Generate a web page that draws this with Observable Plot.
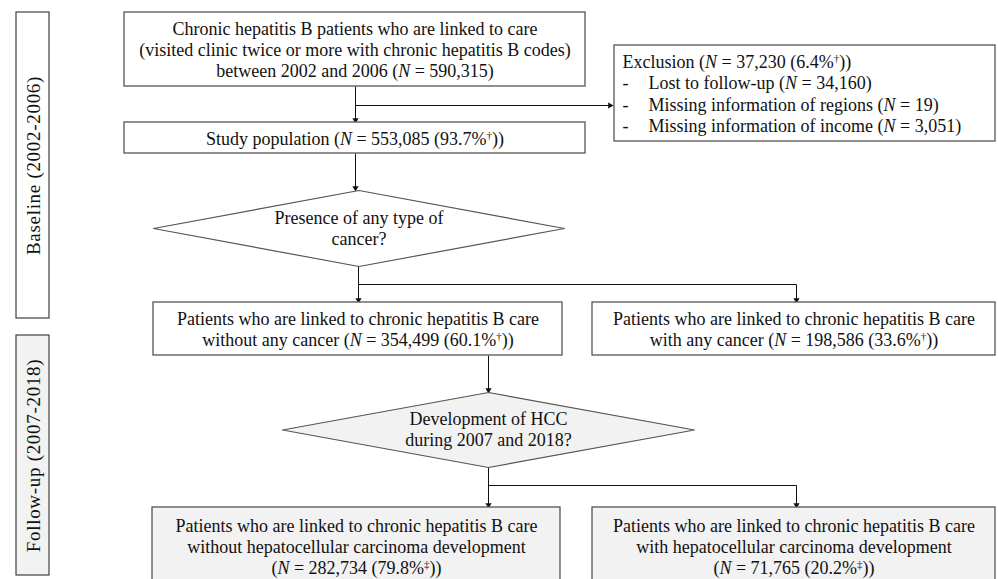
<!DOCTYPE html>
<html>
<head>
<meta charset="utf-8">
<script src="https://cdn.jsdelivr.net/npm/d3@7"></script>
<script src="https://cdn.jsdelivr.net/npm/@observablehq/plot@0.6"></script>
<style>
  html, body { margin: 0; padding: 0; background: #fff; overflow: hidden; }
  #chart svg { display: block; }
</style>
</head>
<body>
<div id="chart"></div>
<script>
// ---------- content ----------
const sideLabels = ["Baseline (2002-2006)", "Follow-up (2007-2018)"];

const boxTexts = [
  "Chronic hepatitis B patients who are linked to care\n(visited clinic twice or more with chronic hepatitis B codes)\nbetween 2002 and 2006 (N = 590,315)",
  "Study population (N = 553,085 (93.7%†))",
  "Patients who are linked to chronic hepatitis B care\nwithout any cancer (N = 354,499 (60.1%†))",
  "Patients who are linked to chronic hepatitis B care\nwith any cancer (N = 198,586 (33.6%†))",
  "Patients who are linked to chronic hepatitis B care\nwithout hepatocellular carcinoma development\n(N = 282,734 (79.8%‡))",
  "Patients who are linked to chronic hepatitis B care\nwith hepatocellular carcinoma development\n(N = 71,765 (20.2%‡))"
];

const decisionTexts = [
  "Presence of any type of\ncancer?",
  "Development of HCC\nduring 2007 and 2018?"
];

const exclusionHeader = "Exclusion (N = 37,230 (6.4%†))";
const exclusionItems = [
  "Lost to follow-up (N = 34,160)",
  "Missing information of regions (N = 19)",
  "Missing information of income (N = 3,051)"
];

// ---------- layout (pixel space) ----------
const sideLayout = [
  {x1: 16, x2: 49, y1: 12, y2: 318, fill: "#ffffff"},
  {x1: 16, x2: 49, y1: 335, y2: 575, fill: "#f2f2f2"}
];
const boxLayout = [
  {x1: 124, x2: 585, y1: 12, y2: 86, fill: "#ffffff"},
  {x1: 124, x2: 585, y1: 122, y2: 153, fill: "#ffffff"},
  {x1: 153, x2: 562, y1: 302, y2: 355, fill: "#ffffff"},
  {x1: 592, x2: 995, y1: 302, y2: 355, fill: "#ffffff"},
  {x1: 152, x2: 560, y1: 507, y2: 600, fill: "#f2f2f2"},
  {x1: 592, x2: 995, y1: 507, y2: 600, fill: "#f2f2f2"}
];
const exclusionLayout = {x1: 614, x2: 995, y1: 45, y2: 141, fill: "#ffffff"};
const decisionLayout = [
  {cx: 358.5, cy: 228, hw: 205.5, hh: 38, fill: "#ffffff"},
  {cx: 488, cy: 429.5, hw: 206, hh: 37.5, fill: "#f2f2f2"}
];
// connectors: [x1, y1, x2, y2, arrowhead]
const connectors = [
  [355, 86, 355, 122, true],
  [355, 105, 612, 105, true],
  [355, 153, 355, 190, true],
  [358, 266, 358, 302, true],
  [358, 284, 796, 284, false],
  [796, 284, 796, 302, true],
  [488, 355, 488, 392, true],
  [488, 467, 488, 507, true],
  [488, 485, 796, 485, false],
  [796, 485, 796, 507, true]
];

// ---------- derived tables ----------
const sides = sideLabels.map((t, i) => ({text: t, ...sideLayout[i]}));
const boxes = boxTexts.map((t, i) => ({text: t, ...boxLayout[i]}));
const visibleBottom = 579;
const diamondPts = [];
decisionTexts.forEach((t, i) => {
  const d = decisionLayout[i];
  [[d.cx, d.cy - d.hh], [d.cx + d.hw, d.cy], [d.cx, d.cy + d.hh], [d.cx - d.hw, d.cy], [d.cx, d.cy - d.hh]]
    .forEach(([x, y]) => diamondPts.push({x, y, z: i, fill: d.fill}));
});
const decisions = decisionTexts.map((t, i) => ({text: t, x: decisionLayout[i].cx, y: decisionLayout[i].cy}));
const links = connectors.map(([x1, y1, x2, y2, a]) => ({x1, y1, x2, y2, a}));
const heads = links.filter(d => d.a).map(d => {
  const horiz = d.y1 === d.y2;
  return horiz ? {x: d.x2 - 2.5, y: d.y2, rotate: 90} : {x: d.x2, y: d.y2 - 2.5, rotate: 180};
});
const exItems = exclusionItems.map((t, i) => ({text: t, y: 83 + i * 21.5}));

const font = "Liberation Serif, Times New Roman, serif";
const fs = 18;

const chart = Plot.plot({
  width: 998,
  height: 579,
  margin: 0,
  style: {fontFamily: font, background: "#fff"},
  x: {domain: [0, 998], range: [0, 998], axis: null},
  y: {domain: [0, 579], range: [0, 579], axis: null},
  marks: [
    // side boxes
    Plot.rect(sides, {x1: "x1", x2: "x2", y1: "y1", y2: "y2", fill: "fill", stroke: "#404040", strokeWidth: 1.2}),
    Plot.text(sides, {x: d => (d.x1 + d.x2) / 2 + 1, y: d => (d.y1 + d.y2) / 2, text: "text", rotate: -90,
      fontSize: 19, fontFamily: font, fill: "#111"}),
    // connectors
    Plot.link(links, {x1: "x1", y1: "y1", x2: "x2", y2: "y2", stroke: "#111", strokeWidth: 1}),
    Plot.dot(heads, {x: "x", y: "y", rotate: "rotate", symbol: "triangle", r: 2.3, fill: "#111", stroke: "none"}),
    // boxes
    Plot.rect(boxes, {x1: "x1", x2: "x2", y1: "y1", y2: "y2", fill: "fill", stroke: "#555", strokeWidth: 1.3, clip: true}),
    Plot.text(boxes, {x: d => (d.x1 + d.x2) / 2,
      y: d => (d.y1 + Math.min(d.y2, d.y1 + 74)) / 2 + (d.y2 > visibleBottom ? 1.5 : 0),
      text: "text", lineHeight: 1.17, fontSize: fs, fontFamily: font, fill: "#111"}),
    // exclusion box
    Plot.rect([exclusionLayout], {x1: "x1", x2: "x2", y1: "y1", y2: "y2", fill: "fill", stroke: "#555", strokeWidth: 1.3}),
    Plot.text([exclusionHeader], {x: 622, y: 62, text: d => d, textAnchor: "start", fontSize: fs, fontFamily: font, fill: "#111"}),
    Plot.text(exItems, {x: 622, y: "y", text: () => "-", textAnchor: "start", fontSize: fs, fontFamily: font, fill: "#111"}),
    Plot.text(exItems, {x: 648, y: "y", text: "text", textAnchor: "start", fontSize: fs, fontFamily: font, fill: "#111"}),
    // decisions
    Plot.line(diamondPts, {x: "x", y: "y", z: "z", fill: "fill", stroke: "#555", strokeWidth: 1.2, curve: "linear"}),
    Plot.text(decisions, {x: "x", y: d => d.y - 1, text: "text", lineHeight: 1.17, fontSize: fs, fontFamily: font, fill: "#111"})
  ]
});

// italic N and superscript daggers
function styleText(root) {
  const walker = document.createTreeWalker(root, NodeFilter.SHOW_TEXT);
  const nodes = [];
  while (walker.nextNode()) nodes.push(walker.currentNode);
  const ns = "http://www.w3.org/2000/svg";
  nodes.forEach(n => {
    const s = n.nodeValue;
    if (!/N(?= =)|[†‡]/.test(s)) return;
    const frag = document.createDocumentFragment();
    const re = /N(?= =)|[†‡]/g;
    let last = 0, m;
    while ((m = re.exec(s))) {
      if (m.index > last) frag.appendChild(document.createTextNode(s.slice(last, m.index)));
      const t = document.createElementNS(ns, "tspan");
      t.textContent = m[0];
      if (m[0] === "N") {
        t.setAttribute("font-style", "italic");
      } else {
        t.setAttribute("font-size", "11");
        t.setAttribute("baseline-shift", "super");
      }
      frag.appendChild(t);
      last = m.index + m[0].length;
    }
    if (last < s.length) frag.appendChild(document.createTextNode(s.slice(last)));
    n.parentNode.replaceChild(frag, n);
  });
}
styleText(chart);
// wider tracking for the rotated period labels
chart.querySelectorAll("text").forEach(t => {
  if (sideLabels.includes(t.textContent)) t.setAttribute("letter-spacing", "0.7");
});
document.getElementById("chart").appendChild(chart);
</script>
</body>
</html>
